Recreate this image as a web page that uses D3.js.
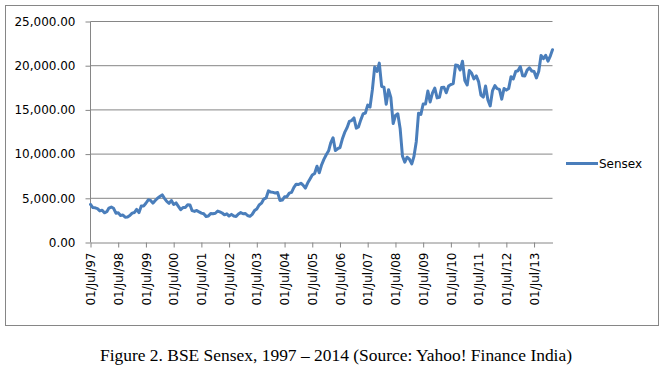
<!DOCTYPE html>
<html>
<head>
<meta charset="utf-8">
<script src="https://cdn.jsdelivr.net/npm/d3@7"></script>
<style>
  body { margin: 0; background: #fff; }
  #chart { width: 665px; height: 370px; }
  .axis text { font-family: "DejaVu Sans", sans-serif; font-size: 12px; fill: #000; }
  .axis path, .axis line { stroke: #868686; }
</style>
</head>
<body>
<div id="chart"></div>
<script>
// monthly closes, Jul 1997 .. Mar 2014
const firstMonth = new Date(1997, 6, 1);
const y1997 = [4306, 3950, 3920, 3830, 3570, 3660];
const y1998 = [3360, 3480, 3890, 4010, 3870, 3320, 3360, 3060, 3100, 2870, 2880, 3050];
const y1999 = [3320, 3400, 3740, 3380, 4120, 4140, 4440, 4830, 4760, 4450, 4750, 5010];
const y2000 = [5200, 5390, 5000, 4650, 4430, 4750, 4310, 4480, 4090, 3710, 3950, 3970];
const y2001 = [4260, 4250, 3600, 3520, 3630, 3460, 3330, 3250, 2940, 2990, 3290, 3260];
const y2002 = [3310, 3560, 3470, 3340, 3130, 3240, 2990, 3180, 2990, 2950, 3230, 3380];
const y2003 = [3250, 3280, 3050, 2960, 3180, 3610, 3790, 4240, 4450, 4910, 5040, 5840];
const y2004 = [5700, 5670, 5590, 5650, 4760, 4800, 5170, 5190, 5580, 5670, 6230, 6600];
const y2005 = [6560, 6710, 6490, 6150, 6720, 7190, 7640, 7810, 8630, 7890, 8790, 9400];
const y2006 = [9920, 10370, 11280, 11850, 10400, 10610, 10740, 11700, 12450, 12960, 13700, 13790];
const y2007 = [14090, 12940, 13070, 13870, 14540, 14650, 15550, 15320, 17290, 19840, 19360, 20290];
const y2008 = [17650, 17580, 15640, 17290, 16420, 13460, 14360, 14560, 12860, 9790, 9090, 9650];
const y2009 = [9420, 8890, 9710, 11400, 14630, 14490, 15670, 15670, 17130, 15900, 16930, 17460];
const y2010 = [16360, 16430, 17530, 17560, 16940, 17700, 17870, 17970, 20070, 20030, 19520, 20510];
const y2011 = [18330, 17820, 19450, 19140, 18500, 18850, 18200, 16680, 16450, 17700, 16120, 15450];
const y2012 = [17190, 17750, 17400, 17320, 16220, 17430, 17240, 17430, 18760, 18510, 19340, 19430];
const y2013 = [19900, 18860, 18840, 19500, 19760, 19400, 19350, 18620, 19380, 21160, 20790, 21170];
const y2014 = [20510, 21120, 21800];

const yTicks = [0, 5000, 10000, 15000, 20000, 25000];
const tickYears = d3.range(1997, 2014);
const seriesName = "Sensex";
const caption = "Figure 2. BSE Sensex, 1997 \u2013 2014 (Source: Yahoo! Finance India)";

const values = [].concat(y1997, y1998, y1999, y2000, y2001, y2002, y2003, y2004, y2005,
    y2006, y2007, y2008, y2009, y2010, y2011, y2012, y2013, y2014);
const data = values.map((v, i) => ({date: d3.timeMonth.offset(firstMonth, i), close: v}));

const width = 665, height = 370;

const x = d3.scaleTime()
    .domain(d3.extent(data, d => d.date))
    .range([90.5, 552.5]);

const y = d3.scaleLinear()
    .domain([0, 25000])
    .range([242.5, 21.5]);

const svg = d3.select("#chart")
    .append("svg")
    .attr("width", width)
    .attr("height", height);

svg.append("rect")
    .attr("x", 5.5).attr("y", 5.5)
    .attr("width", 653).attr("height", 320)
    .attr("fill", "#fff")
    .attr("stroke", "#868686");

// gridlines
svg.append("g")
    .selectAll("line")
    .data(yTicks.slice(1))
    .join("line")
    .attr("x1", x.range()[0])
    .attr("x2", x.range()[1])
    .attr("y1", d => y(d))
    .attr("y2", d => y(d))
    .attr("stroke", "#868686");

const fmt = d3.format(",.2f");

svg.append("g")
    .attr("class", "axis")
    .attr("transform", `translate(${x.range()[0]},0)`)
    .call(d3.axisLeft(y).tickValues(yTicks).tickFormat(fmt).tickSize(5).tickPadding(10))
    .call(g => g.select(".domain").attr("d", `M0,${y.range()[0]}V${y.range()[1]}`));

const xAxis = svg.append("g")
    .attr("class", "axis")
    .attr("transform", `translate(0,${y.range()[0]})`)
    .call(d3.axisBottom(x)
        .tickValues(tickYears.map(yr => new Date(yr, 6, 1)))
        .tickFormat(d3.timeFormat("%d/%b/%y"))
        .tickSize(5)
        .tickSizeOuter(0));

xAxis.selectAll("text")
    .attr("transform", "rotate(-90)")
    .attr("text-anchor", "end")
    .attr("x", -10)
    .attr("y", 0)
    .attr("dy", "0.35em");

const line = d3.line()
    .x(d => x(d.date))
    .y(d => y(d.close));

svg.append("path")
    .datum(data)
    .attr("fill", "none")
    .attr("stroke", "#4a7ebb")
    .attr("stroke-width", 3)
    .attr("stroke-linejoin", "round")
    .attr("stroke-linecap", "round")
    .attr("d", line);

// legend
const legend = svg.append("g").attr("transform", "translate(566,163.5)");
legend.append("line")
    .attr("x1", 0).attr("x2", 32)
    .attr("stroke", "#4a7ebb")
    .attr("stroke-width", 3);
legend.append("text")
    .attr("x", 33)
    .attr("dy", "0.35em")
    .attr("font-family", "DejaVu Sans, sans-serif")
    .attr("font-size", "12px")
    .text(seriesName);

svg.append("text")
    .attr("x", 100)
    .attr("y", 360.5)
    .attr("font-family", "Liberation Serif, serif")
    .attr("font-size", "16px")
    .attr("textLength", 472)
    .attr("lengthAdjust", "spacingAndGlyphs")
    .text(caption);
</script>
</body>
</html>
